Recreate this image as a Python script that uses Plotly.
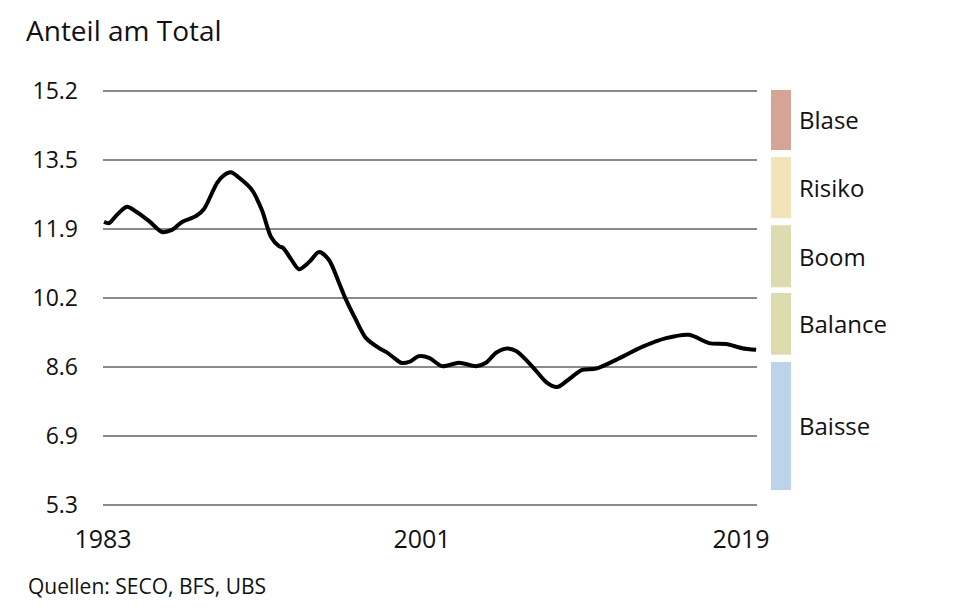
import plotly.graph_objects as go

# --- data ---
years = [1983.06, 1983.34, 1983.79, 1984.35, 1984.75, 1985.60, 1986.33, 1986.89, 1987.46, 1988.25,
         1988.70, 1989.43, 1989.83, 1990.22, 1990.84, 1991.41, 1991.97, 1992.48, 1992.93, 1993.16,
         1993.61, 1994.06, 1994.63, 1995.19, 1995.75, 1996.32, 1996.71, 1997.28, 1997.84, 1998.58,
         1998.97, 1999.42, 1999.82, 2000.27, 2000.83, 2001.40, 2002.13, 2003.09, 2004.05, 2004.61,
         2005.18, 2005.80, 2006.31, 2006.87, 2007.49, 2008.06, 2008.62, 2009.18, 2010.03, 2010.82,
         2011.95, 2013.42, 2014.77, 2016.07, 2017.20, 2018.16, 2019.06, 2019.85]
share = [12.07, 12.04, 12.24, 12.43, 12.35, 12.09, 11.83, 11.88, 12.07, 12.21,
         12.38, 13.00, 13.19, 13.26, 13.07, 12.83, 12.35, 11.71, 11.49, 11.45,
         11.18, 10.94, 11.11, 11.35, 11.16, 10.61, 10.21, 9.72, 9.29, 9.05,
         8.96, 8.82, 8.70, 8.72, 8.86, 8.82, 8.62, 8.70, 8.62, 8.70,
         8.94, 9.04, 8.98, 8.77, 8.48, 8.22, 8.12, 8.27, 8.53, 8.56,
         8.77, 9.08, 9.29, 9.37, 9.17, 9.15, 9.05, 9.01]

ytick_vals = [5.3, 6.95, 8.6, 10.25, 11.9, 13.55, 15.2]
ytick_text = ["5.3", "6.9", "8.6", "10.2", "11.9", "13.5", "15.2"]
xtick_vals = [1983, 2001, 2019]
xtick_text = ["1983", "2001", "2019"]

band_names = ["Blase", "Risiko", "Boom", "Balance", "Baisse"]
band_top = [15.27, 13.62, 11.99, 10.37, 8.72]
band_bottom = [13.79, 12.16, 10.51, 8.89, 5.66]
band_colors = ["#d4a596", "#f2e3b8", "#dddcb0", "#dcdcae", "#bcd3ea"]

FONT = "Open Sans, Noto Sans, sans-serif"

fig = go.Figure()
fig.add_trace(go.Scatter(
    x=years, y=share, mode="lines",
    line=dict(color="black", width=4, shape="spline", smoothing=0.8),
    hoverinfo="x+y", showlegend=False,
))

shapes = []
annotations = []
for name, top, bot, col in zip(band_names, band_top, band_bottom, band_colors):
    shapes.append(dict(type="rect", xref="paper", yref="y",
                       x0=1.0214, x1=1.052, y0=bot, y1=top,
                       fillcolor=col, line=dict(width=0), layer="above"))
    annotations.append(dict(xref="paper", yref="y", x=1.061, y=(top + bot) / 2,
                            text=name, showarrow=False, xanchor="left", yanchor="middle",
                            font=dict(family=FONT, size=24, color="#111")))

annotations.append(dict(xref="paper", yref="paper", x=-0.118, y=-0.193,
                        text="Quellen: SECO, BFS, UBS", showarrow=False,
                        xanchor="left", yanchor="middle",
                        font=dict(family=FONT, size=21, color="#111")))

W, H = 952, 608
fig.update_layout(
    width=W, height=H,
    margin=dict(l=95, r=W - 95 - 654, t=82, b=H - 82 - 416),
    paper_bgcolor="white", plot_bgcolor="white",
    title=dict(text="Anteil am Total", x=18 / W, xref="container", xanchor="left",
               y=1 - 23 / H, yref="container", yanchor="middle",
               font=dict(family=FONT, size=28, color="#111")),
    xaxis=dict(range=[1983, 2019.9], tickvals=xtick_vals, ticktext=xtick_text,
               showgrid=False, zeroline=False, showline=False, ticks="",
               ticklabelstandoff=16,
               tickfont=dict(family=FONT, size=25, color="#111")),
    yaxis=dict(range=[5.275, 15.225], tickvals=ytick_vals, ticktext=ytick_text,
               showgrid=True, gridcolor="#8a8a8a", gridwidth=2, zeroline=False,
               showline=False, ticks="", ticklabelstandoff=24,
               tickfont=dict(family=FONT, size=23, color="#111")),
    shapes=shapes, annotations=annotations,
)

fig.write_html("out.html")
